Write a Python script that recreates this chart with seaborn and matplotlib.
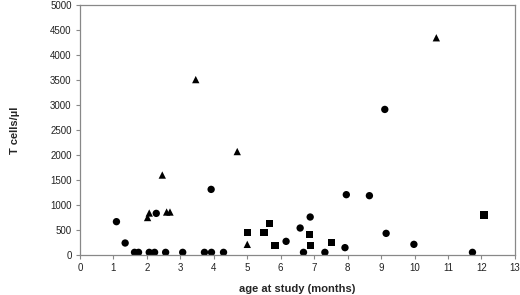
import matplotlib
matplotlib.use("Agg")
import matplotlib.pyplot as plt
import seaborn as sns
import pandas as pd

# circles
circle_age = [1.09, 1.35, 1.63, 1.75, 2.07, 2.23, 2.28, 2.56, 3.07, 3.72, 3.93, 3.92, 4.29,
              9.11, 7.96, 8.65, 6.88, 6.58, 9.15, 6.16, 9.98, 7.92, 6.68, 7.32, 11.73]
circle_t = [667, 240, 53, 53, 53, 53, 833, 53, 53, 53, 53, 1313, 53,
            2913, 1207, 1187, 760, 540, 433, 273, 213, 147, 53, 53, 53]
# triangles
tri_age = [2.02, 2.07, 2.46, 2.59, 2.69, 3.46, 4.70, 5.0, 10.65]
tri_t = [750, 840, 1600, 860, 860, 3510, 2070, 213, 4347]
# squares
sq_age = [5.0, 5.5, 5.66, 5.83, 6.85, 6.88, 7.52, 12.08]
sq_t = [453, 447, 633, 193, 413, 193, 253, 800]

df = pd.DataFrame({
    "age": circle_age + tri_age + sq_age,
    "t": circle_t + tri_t + sq_t,
    "grp": ["c"] * len(circle_age) + ["t"] * len(tri_age) + ["s"] * len(sq_age),
})

sns.set_style("white")
plt.rcParams["font.family"] = ["Liberation Sans", "DejaVu Sans"]

fig = plt.figure(figsize=(5.2, 2.95), dpi=100)
ax = fig.add_axes([0.1538, 0.1356, 0.8365, 0.847])
sns.scatterplot(data=df, x="age", y="t", style="grp",
                markers={"c": "o", "t": "^", "s": "s"},
                color="black", s=28, edgecolor="black", linewidth=0,
                legend=False, ax=ax)

ax.set_xlim(0, 13)
ax.set_ylim(0, 5000)
ax.set_xticks(range(0, 14))
ax.set_yticks(range(0, 5001, 500))
ax.tick_params(axis="both", labelsize=7, direction="out", length=3,
               width=0.8, color="#888888", labelcolor="#222222", pad=3,
               bottom=True, left=True)
for sp in ax.spines.values():
    sp.set_color("#888888")
    sp.set_linewidth(0.9)
ax.set_xlabel("age at study (months)", fontsize=8, fontweight="bold", labelpad=8)
ax.set_ylabel("T cells/µl", fontsize=8, fontweight="bold", labelpad=22)

fig.savefig("out.png", dpi=100)
